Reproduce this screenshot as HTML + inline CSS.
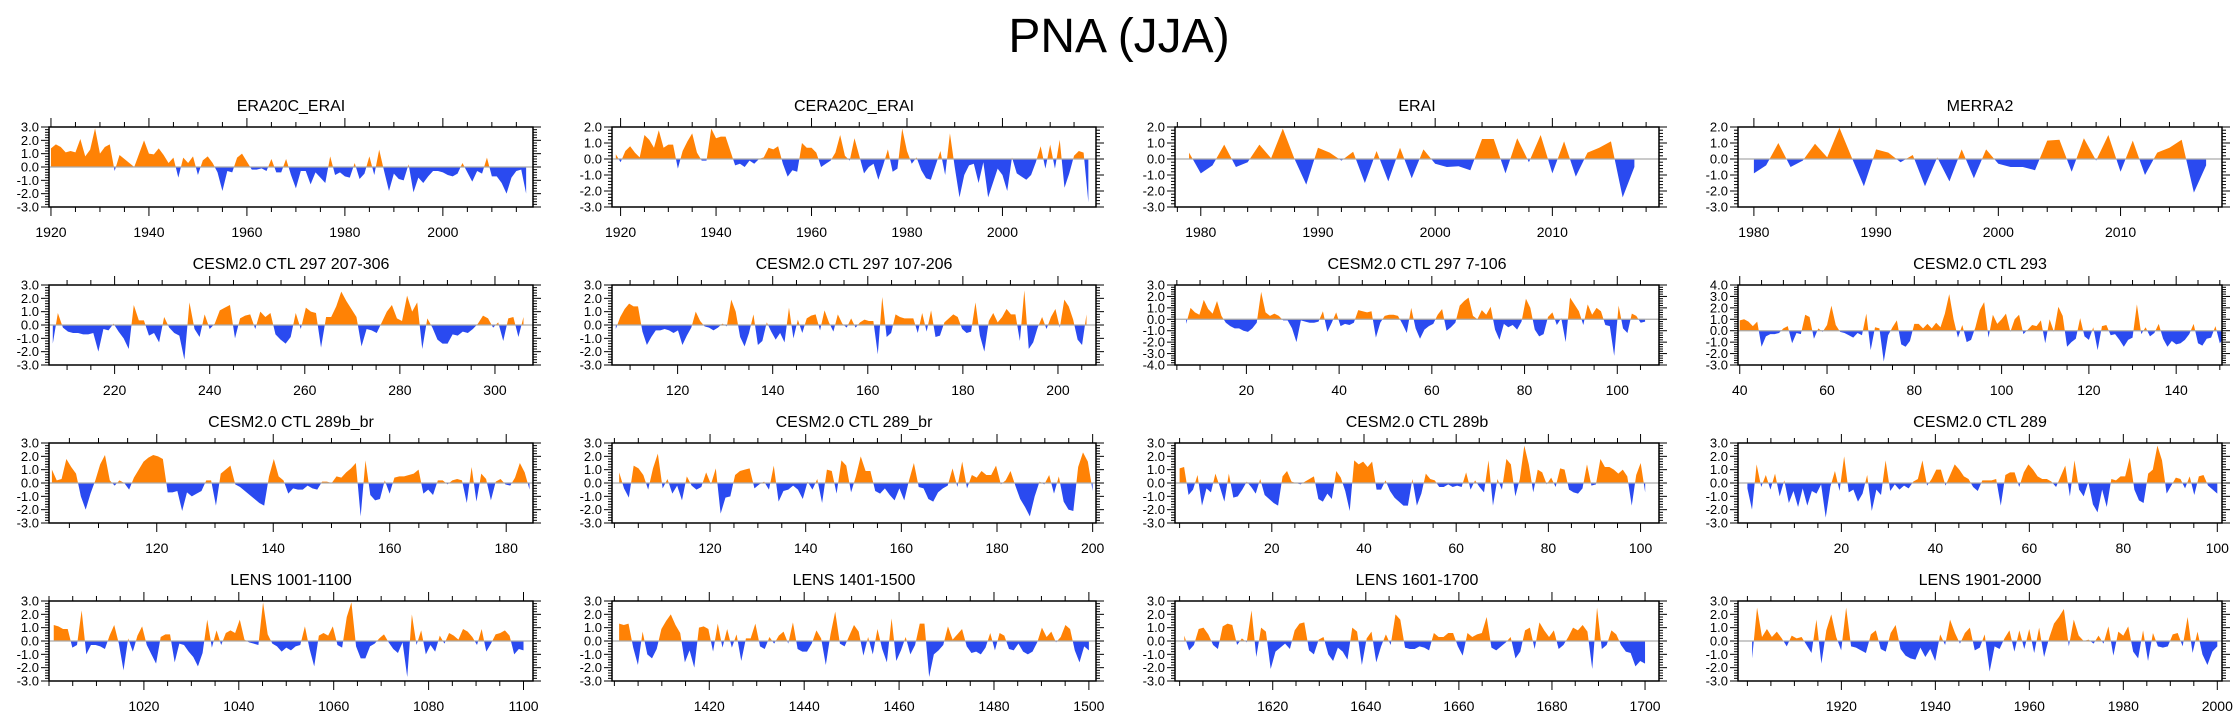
<!DOCTYPE html>
<html><head><meta charset="utf-8">
<style>
html,body{margin:0;padding:0;background:#fff;}
svg text{font-family:"Liberation Sans",Arial,sans-serif;fill:#000;}
</style></head>
<body>
<svg id="chart" width="2238" height="718" viewBox="0 0 2238 718" xmlns="http://www.w3.org/2000/svg">
<text x="1119" y="52" font-size="48" text-anchor="middle">PNA (JJA)</text>
</svg>
<script>
const panelTitles = ["ERA20C_ERAI","CERA20C_ERAI","ERAI","MERRA2",
"CESM2.0 CTL 297 207-306","CESM2.0 CTL 297 107-206","CESM2.0 CTL 297 7-106","CESM2.0 CTL 293",
"CESM2.0 CTL 289b_br","CESM2.0 CTL 289_br","CESM2.0 CTL 289b","CESM2.0 CTL 289",
"LENS 1001-1100","LENS 1401-1500","LENS 1601-1700","LENS 1901-2000"];
const firstCat = [1920,1919,1979,1980, 207,107,7,40, 102,101,0,0, 1001,1401,1601,1901];
const lastCat  = [2017,2018,2017,2017, 306,206,106,151, 184,200,101,100, 1100,1500,1700,2000];
const xDomMin = [1919.6,1918.2,1977.8,1978.7, 206.2,106.2,4.6,39.6, 101.5,99.5,-1,-2, 1000,1399.5,1599,1898];
const xDomMax = [2018.4,2019.6,2019.1,2018.3, 308,208,109,150.5, 184.6,200.7,104,101, 1102,1501.5,1703,2001];
const xTickStart = [1920,1920,1980,1980, 220,120,20,40, 120,120,20,20, 1020,1420,1620,1920];
const xTickStep  = [20,20,10,10, 20,20,20,20, 20,20,20,20, 20,20,20,20];
const xMinorStep = [5,5,2,2, 5,5,5,5, 5,5,5,5, 5,5,5,5];
const yMaxs = [3,2,2,2, 3,3,3,4, 3,3,3,3, 3,3,3,3];
const yMins = [-3,-3,-3,-3, -3,-3,-4,-3, -3,-3,-3,-3, -3,-3,-3,-3];

const s0 = [1.4,1.7,1.5,1.1,1.2,1.1,2.1,0.8,1.3,2.9,1.0,1.5,1.7,-0.3,0.9,0.6,0.3,0.0,1.0,2.0,1.0,0.95,1.4,0.9,0.3,0.7,-0.8,0.7,0.3,0.8,-0.6,0.5,0.8,0.3,-0.4,-1.8,-0.3,-0.4,0.7,1.0,0.4,-0.2,-0.2,-0.1,-0.3,0.6,-0.4,-0.4,0.6,-0.6,-1.6,-0.3,-0.3,-1.3,-0.4,-0.8,-1.2,0.8,-0.6,-0.4,-0.7,-0.8,0.3,-0.9,-0.5,0.8,-0.6,1.3,-0.3,-1.8,-0.5,-0.9,-1.0,0.2,-1.9,-0.8,-1.2,-0.7,-0.3,-0.3,-0.4,-0.6,-0.7,-0.5,0.3,-0.4,-1.1,-0.3,-0.5,0.7,-0.7,-0.7,-1.2,-2.0,-0.8,-0.3,-0.2,-2.0];
const s1 = [0.3,-0.2,0.5,0.8,0.4,0.1,1.5,1.2,0.7,1.8,0.7,0.9,0.9,-0.6,0.5,1.1,1.6,0.4,-0.1,-0.1,1.9,1.3,1.4,1.4,0.5,-0.4,-0.3,-0.5,-0.1,-0.3,0.0,0.1,0.7,0.6,0.8,-0.3,-1.1,-0.7,-0.8,1.0,0.7,0.7,0.4,-0.5,-0.3,-0.1,0.4,1.5,0.2,-0.1,1.3,0.2,-0.9,-0.5,-0.3,-1.3,-0.4,0.6,-0.8,-0.6,1.9,0.5,-0.3,0.1,-0.7,-1.2,-1.3,-0.4,0.5,-1.0,1.6,-0.5,-2.4,-1.0,-0.4,-0.3,-1.5,-0.2,-2.4,-1.5,-0.6,-1.0,-2.0,0.1,-0.9,-1.1,-1.3,-1.0,-0.2,0.8,-0.6,0.9,-0.6,1.2,-1.8,-0.9,0.2,0.5,0.4,-2.7];
const s2 = [0.4,-0.9,-0.4,0.9,-0.5,-0.2,0.9,0.05,1.9,0.0,-1.6,0.7,0.4,-0.1,0.45,-1.5,0.5,-1.4,0.7,-1.2,0.6,-0.3,-0.5,-0.45,-0.7,1.25,1.25,-0.9,1.3,-0.2,1.5,-0.9,1.1,-1.1,0.4,0.7,1.1,-2.4,-0.5];
const s3 = [-0.9,-0.4,1.0,-0.5,-0.1,0.95,0.1,1.95,0.1,-1.7,0.6,0.4,-0.2,0.25,-1.7,0.1,-1.4,0.6,-1.2,0.6,-0.3,-0.5,-0.5,-0.7,1.15,1.2,-0.8,1.3,-0.1,1.5,-0.8,1.15,-1.0,0.4,0.7,1.2,-2.1,-0.4];
const s4 = [-1.4,0.9,-0.2,-0.5,-0.6,-0.6,-0.7,-0.7,-0.6,-2.0,-0.3,-0.4,0.1,-0.5,-1.0,-1.8,1.5,0.35,0.35,-0.8,-0.6,-1.3,0.6,-0.2,-0.6,-0.8,-2.6,1.7,-0.3,-0.9,0.8,-0.3,0.1,1.1,1.3,1.5,-1.0,0.5,0.7,0.8,-0.3,1.0,0.6,0.9,-0.7,-1.1,-1.4,-0.9,0.9,-0.3,1.3,1.0,0.9,-1.7,0.6,0.6,1.4,2.5,1.8,1.2,0.6,-1.6,-0.3,-0.4,-0.6,0.2,1.0,1.5,0.5,0.3,2.2,1.0,1.7,-1.8,0.5,-0.2,-1.1,-1.4,-1.4,-0.7,-0.8,-0.5,-0.6,-0.3,0.1,0.7,0.5,-0.2,0.2,-1.2,0.5,0.6,-0.9,0.6];
const s5 = [-0.3,0.6,1.2,1.6,1.4,1.4,-0.5,-1.5,-0.9,-0.4,-0.4,-0.3,-0.4,-0.6,-0.4,-1.5,-0.8,-0.2,1.0,0.3,-0.1,-0.2,-0.4,-0.2,0.1,-0.1,1.9,1.0,-0.9,-1.6,-0.6,0.8,-1.5,-1.2,0.2,-0.5,-1.1,-0.6,-1.3,1.3,-1.0,0.4,-0.6,0.5,0.7,0.8,-0.4,1.1,0.2,-0.5,0.8,0.1,-0.2,0.5,-0.2,0.2,0.4,0.3,0.3,-2.2,2.1,-0.9,-0.6,0.8,0.6,0.5,0.5,0.5,-0.6,0.9,-0.5,1.1,-0.9,-0.8,0.2,0.5,0.8,0.6,-0.3,-0.6,-0.5,1.7,-0.8,-2.0,0.3,0.9,0.2,0.6,1.2,0.8,0.8,-1.2,2.6,-1.8,-1.3,-0.2,0.6,-0.3,0.6,1.2,-0.2,1.9,1.4,0.4,-1.1,-1.5,0.8];
const s6 = [-0.4,1.0,0.6,0.4,1.7,0.9,0.5,1.6,0.3,-0.3,-0.6,-0.8,-0.8,-1.0,-1.1,-0.8,-0.3,2.4,0.6,0.3,0.5,0.3,-0.1,-0.1,-0.8,-2.0,-0.1,-0.2,-0.3,-0.3,-0.2,0.7,-1.1,-0.3,0.6,-0.6,-0.4,-0.5,-0.3,0.8,0.7,0.6,0.7,-1.6,-0.3,0.3,0.4,0.4,0.3,-0.4,-1.2,1.0,-0.8,-1.7,-0.9,-0.6,-0.4,0.4,0.9,-1.0,-0.7,-0.3,1.2,1.6,1.9,0.3,0.0,0.8,0.4,1.1,-0.9,-1.8,-0.4,-0.7,-0.5,-0.9,-0.2,1.8,1.0,-0.9,-1.5,-1.3,0.2,0.6,-0.5,0.1,-2.0,1.9,1.3,0.7,-0.5,1.3,0.4,1.0,0.7,-0.5,-0.6,-3.2,1.2,-0.8,-1.2,0.5,0.3,-0.3,-0.2];
const s7 = [0.9,1.0,0.8,0.4,0.8,-1.4,-0.5,-0.3,-0.3,-0.2,0.2,0.4,-1.1,-0.2,-0.3,1.4,1.2,-0.7,0.2,-0.1,0.5,2.2,0.5,-0.1,-0.2,-0.4,-0.6,-0.2,-0.4,1.5,-1.7,0.3,0.2,-2.7,-0.4,0.3,0.9,-1.2,-1.4,-0.9,0.6,0.6,0.2,0.6,0.2,0.7,0.3,1.5,3.2,1.0,-0.6,0.5,-1.0,-0.8,0.3,1.8,2.5,-0.6,1.4,0.6,1.0,1.5,-0.1,1.0,1.4,-0.3,0.1,0.5,0.4,0.9,-1.1,1.0,-0.1,2.1,1.3,-1.4,-1.0,-0.7,1.1,-0.5,-0.8,0.3,-1.7,0.4,0.5,-0.4,-0.3,-0.8,-1.4,-0.8,-0.6,2.3,-0.3,0.3,-0.5,-0.2,0.6,-0.7,-1.4,-0.9,-1.2,-1.1,-0.8,-0.3,0.6,-1.1,-1.3,-0.7,-0.6,0.4,-1.1,-0.6];
const s8 = [1.0,0.2,0.3,1.8,1.2,0.7,-1.0,-2.0,-0.8,0.2,1.4,2.1,0.2,-0.2,0.2,0.0,-0.5,0.4,1.0,1.6,1.9,2.1,2.0,1.8,-0.7,-0.7,-0.6,-2.1,-0.7,-1.0,-0.8,-0.6,0.2,0.2,-1.7,0.7,1.0,1.3,-0.1,-0.3,-0.6,-0.9,-1.2,-1.5,-1.7,0.5,1.8,0.5,0.2,-0.8,-0.4,-0.5,-0.5,-0.2,-0.4,-0.5,0.1,0.1,0.0,0.5,0.4,0.8,1.1,1.5,-2.5,1.7,-0.9,-1.3,-1.2,0.2,-0.8,0.4,0.5,0.5,0.6,0.7,1.0,-0.8,-0.5,-0.9,0.2,0.2,-0.1,0.2,0.3,0.2,-1.5,1.2,-1.4,0.7,0.3,-1.3,0.1,0.3,-0.1,-0.2,0.4,1.5,0.8,-0.5];
const s9 = [0.8,-0.4,-1.1,1.3,1.1,0.6,-0.5,1.1,2.2,-0.4,0.3,-0.8,-0.2,-1.3,0.5,-0.2,-0.5,-0.3,0.8,-0.1,1.1,-2.3,-1.1,-1.0,0.6,0.9,1.0,1.1,-0.4,-0.1,0.1,-0.5,1.3,-1.4,-0.6,-0.5,-0.2,-0.5,-1.2,0.1,-0.5,0.3,-1.5,1.0,0.9,-0.8,1.7,1.3,-0.7,0.5,2.0,0.9,0.9,-0.6,-0.8,-0.4,-0.9,-1.3,-0.4,-1.3,0.2,1.5,-0.3,-0.4,-1.2,-1.4,-0.7,-0.4,-0.2,1.1,-0.3,1.6,-0.4,0.6,0.4,0.9,0.6,0.6,1.3,-0.1,0.2,0.9,-0.2,-1.2,-1.8,-2.5,-1.0,0.1,-0.1,0.6,-0.8,0.5,-1.4,-2.0,-2.1,1.2,2.3,1.6,-0.6];
const s10 = [1.1,1.2,-0.9,-0.5,0.6,-1.7,-0.4,-0.7,0.7,-0.3,-1.4,0.7,-1.1,-1.0,-0.5,0.1,-0.3,-0.8,0.3,-0.9,-1.2,-1.5,-1.7,0.5,0.9,0.1,0.0,-0.1,0.1,0.3,0.5,-1.2,-1.4,-0.8,-1.2,0.9,0.4,-0.6,-2.1,1.7,1.4,1.6,1.2,1.6,-0.5,-0.5,0.2,-0.6,-1.1,-1.4,-1.7,-1.7,0.3,-1.7,-0.8,0.7,0.3,0.2,-0.3,-0.3,-0.1,-0.3,-0.2,-0.3,0.8,-0.5,0.2,-0.3,-0.7,1.7,-1.7,0.3,-0.5,1.8,1.4,-1.0,0.3,2.8,1.4,-0.7,1.0,0.8,-0.1,0.4,-0.3,1.1,1.0,-0.5,-0.7,-0.8,-0.4,1.4,-0.2,-0.1,1.8,1.2,1.2,1.0,0.7,1.0,0.5,-1.7,0.6,1.5,-0.7];
const s11 = [-0.4,-2.0,1.4,-0.3,0.6,-0.5,0.7,-1.0,0.2,-1.5,-0.6,-1.8,-0.4,-1.7,-0.6,-0.8,-0.1,-2.6,-0.3,0.9,-0.6,2.0,-0.7,-0.5,-1.4,-0.8,0.6,-2.1,-0.5,-0.9,1.7,-0.6,-0.1,-0.5,-0.2,-0.4,0.1,0.3,1.7,-0.2,0.3,1.0,1.0,-0.2,0.6,1.4,1.0,0.5,0.3,-0.3,-0.6,0.2,0.2,0.2,0.3,-1.7,0.6,0.8,0.8,-0.3,0.8,1.4,1.0,0.5,0.3,0.3,0.1,-0.3,0.5,1.3,-1.0,1.7,-0.5,-1.0,0.1,-1.6,-2.2,-0.5,-1.8,0.3,0.2,0.5,0.5,1.9,-0.5,-1.3,-1.5,0.7,1.0,2.8,1.7,-0.8,-0.2,0.4,0.3,-0.4,0.5,-0.9,0.5,0.6,-0.2,-0.5,-0.8];
const s12 = [1.2,1.1,0.9,0.9,-0.5,-0.3,2.3,-1.0,-0.3,-0.3,-0.4,-0.6,0.4,1.2,-0.2,-2.2,0.2,-0.8,0.4,1.1,-0.3,-1.0,-1.7,0.3,0.5,0.5,-1.6,-0.2,-0.3,-0.8,-1.2,-1.9,-0.9,1.6,-0.5,0.8,-0.3,0.6,0.8,0.6,1.6,0.1,-0.1,-0.2,-0.3,2.9,0.5,-0.2,-0.4,-0.8,-0.5,-0.7,-0.4,-0.3,1.1,-0.6,-1.9,0.4,0.6,0.4,1.1,-0.3,-0.5,1.8,2.9,-0.4,-1.3,-1.3,-0.4,-0.2,0.2,0.5,-0.1,-0.6,-0.9,-0.1,-2.7,2.0,-0.3,0.8,-1.0,-0.3,-0.8,0.4,-0.2,0.6,0.4,0.1,0.9,0.7,0.3,-0.3,0.9,-0.8,-0.2,0.5,0.6,0.8,0.4,-1.0,-0.6,-0.7];
const s13 = [1.3,1.2,1.3,-0.5,-1.8,0.7,-1.0,-1.3,-0.6,0.9,1.5,2.0,1.2,0.6,-1.6,-0.7,-2.0,1.0,1.1,0.9,-0.8,1.3,-0.5,0.9,-0.5,0.5,-1.5,0.2,0.2,1.3,-0.4,-0.6,0.3,-0.2,0.4,0.7,-0.2,1.4,-0.6,-0.8,-0.8,-0.2,0.8,0.2,-1.8,0.5,2.2,-0.2,-0.4,0.4,1.2,0.7,-1.1,0.3,-1.0,0.9,-0.6,-1.6,1.7,-1.5,-0.7,0.3,-1.0,-0.3,1.3,1.3,-2.7,-1.0,-0.7,-0.3,1.1,0.1,0.5,0.9,-0.4,-0.9,-0.8,-1.0,-0.5,0.6,-0.7,0.6,0.4,-0.6,-0.7,-0.2,-0.8,-1.0,-0.8,-0.1,1.0,0.3,0.7,-0.1,0.3,1.2,0.9,-0.7,-1.6,-0.4,-0.7];
const s14 = [0.4,-0.7,-0.3,0.9,1.0,0.5,-0.3,-0.6,1.1,1.3,1.2,-0.3,0.2,-0.1,2.3,-1.2,1.0,0.7,-2.1,-0.8,-0.5,-0.2,-0.6,0.8,1.3,1.4,-0.7,-1.0,0.1,0.3,-1.0,-1.5,-0.5,-0.8,-1.4,1.0,0.7,-1.8,0.2,0.7,-1.6,-0.4,0.5,-0.3,2.0,1.6,-0.5,-0.6,-0.6,-0.4,-0.5,-0.7,0.6,0.3,0.3,0.6,0.6,-0.4,-1.1,0.6,0.3,0.5,0.6,1.8,-0.5,-0.7,-0.4,-0.1,0.3,-1.3,-0.8,0.8,1.0,-0.6,1.4,0.8,0.3,0.8,-0.6,-0.3,0.3,1.0,0.8,1.2,0.7,-2.1,2.5,-0.6,-0.3,0.8,0.5,-0.3,-0.8,-0.9,-1.9,-1.5,-1.7];
const s15 = [-1.3,2.5,0.3,0.9,0.3,0.7,0.2,-0.4,0.4,0.2,0.3,-0.3,-0.9,1.6,-1.7,0.8,2.0,0.3,-0.7,2.5,-0.4,-0.5,-0.7,-0.9,0.5,0.8,-0.6,-0.8,0.6,1.2,-0.6,-1.1,-1.3,-1.4,-0.5,-1.2,-0.6,-1.5,0.5,-0.3,1.6,0.6,-0.2,0.6,1.0,-0.7,-0.5,0.5,-2.3,-0.4,-0.6,0.2,0.8,-0.8,0.8,-0.6,0.9,-0.9,1.0,-1.2,0.2,1.3,1.8,2.4,-0.4,1.6,0.4,0.0,0.1,-0.2,0.4,-0.2,1.1,-1.1,0.7,0.4,1.1,-0.8,-1.3,0.8,-1.5,0.6,-0.4,-0.5,-0.4,0.5,0.6,-0.4,1.8,-0.9,0.7,-1.0,-1.8,-0.8,-0.4];
const seriesList = [s0,s1,s2,s3,s4,s5,s6,s7,s8,s9,s10,s11,s12,s13,s14,s15];

const NS = "http://www.w3.org/2000/svg";
const svg = document.getElementById('chart');
const colLeft = [49,612,1175,1738];
const rowTop = [127,285,443,601];
const W = 484, H = 80;
function mk(tag, attrs, parent){const e=document.createElementNS(NS,tag);for(const k in attrs)e.setAttribute(k,attrs[k]);(parent||svg).appendChild(e);return e;}
const defs = mk('defs',{});

for (let p=0;p<16;p++){
  const L = colLeft[p%4], T = rowTop[Math.floor(p/4)];
  const g = mk('g',{});
  
  
  const xmin=xDomMin[p], xmax=xDomMax[p], ymin=yMins[p], ymax=yMaxs[p];
  const xs = v => L + (v-xmin)/(xmax-xmin)*W;
  const ys = v => T + (ymax-v)/(ymax-ymin)*H;
  const vals = seriesList[p];
  const n = vals.length;
  const cat = i => firstCat[p] + i*(lastCat[p]-firstCat[p])/(n-1);
  const y0 = ys(0);
  const cu = mk('clipPath',{id:'cu'+p},defs); mk('rect',{x:L,y:T,width:W,height:y0-T},cu);
  const cd = mk('clipPath',{id:'cd'+p},defs); mk('rect',{x:L,y:y0,width:W,height:T+H-y0},cd);
  let d = 'M'+xs(cat(0)).toFixed(2)+','+y0.toFixed(2);
  for(let i=0;i<n;i++) d+=' L'+xs(cat(i)).toFixed(2)+','+ys(vals[i]).toFixed(2);
  d += ' L'+xs(cat(n-1)).toFixed(2)+','+y0.toFixed(2)+' Z';
  const pos = mk('path',{d:d,fill:'#ff8205','clip-path':'url(#cu'+p+')'},g);
  
  
  const neg = mk('path',{d:d,fill:'#2a4af0','clip-path':'url(#cd'+p+')'},g);
  
  
  const zl = mk('line',{x1:L,x2:L+W,y1:y0,y2:y0,stroke:'#aaaaaa','stroke-width':1.2},g);
  
  
  const box = mk('rect',{x:L,y:T,width:W,height:H,fill:'none',stroke:'#000','stroke-width':1.5},g);
  
  
  for (let k=Math.round(ymin*5);k<=Math.round(ymax*5);k++){
    const v=k/5, yy=ys(v), major=(k%5===0), len=major?8:4;
    mk('line',{x1:L-len,x2:L,y1:yy,y2:yy,stroke:'#000','stroke-width':1},g);
    mk('line',{x1:L+W,x2:L+W+len,y1:yy,y2:yy,stroke:'#000','stroke-width':1},g);
    if(major){
      const t = mk('text',{x:L-10,y:yy+4.5,'font-size':13,'text-anchor':'end'},g);
      
      
      t.textContent = v.toFixed(1);
    }
  }
  const ms = xMinorStep[p];
  for (let v=Math.ceil(xmin/ms)*ms; v<=xmax; v+=ms){
    const xx=xs(v), major=((v-xTickStart[p])%xTickStep[p]===0) && v>=xTickStart[p], len=major?9:5;
    mk('line',{x1:xx,x2:xx,y1:T-len,y2:T,stroke:'#000','stroke-width':1},g);
    mk('line',{x1:xx,x2:xx,y1:T+H,y2:T+H+len,stroke:'#000','stroke-width':1},g);
    if(major){
      const t = mk('text',{x:xx,y:T+H+30,'font-size':14,'text-anchor':'middle'},g);
      
      
      t.textContent = v;
    }
  }
  const tt = mk('text',{x:L+W/2,y:T-16,'font-size':16,'text-anchor':'middle'},g);
  
  
  tt.textContent = panelTitles[p];
}
</script>
</body></html>
